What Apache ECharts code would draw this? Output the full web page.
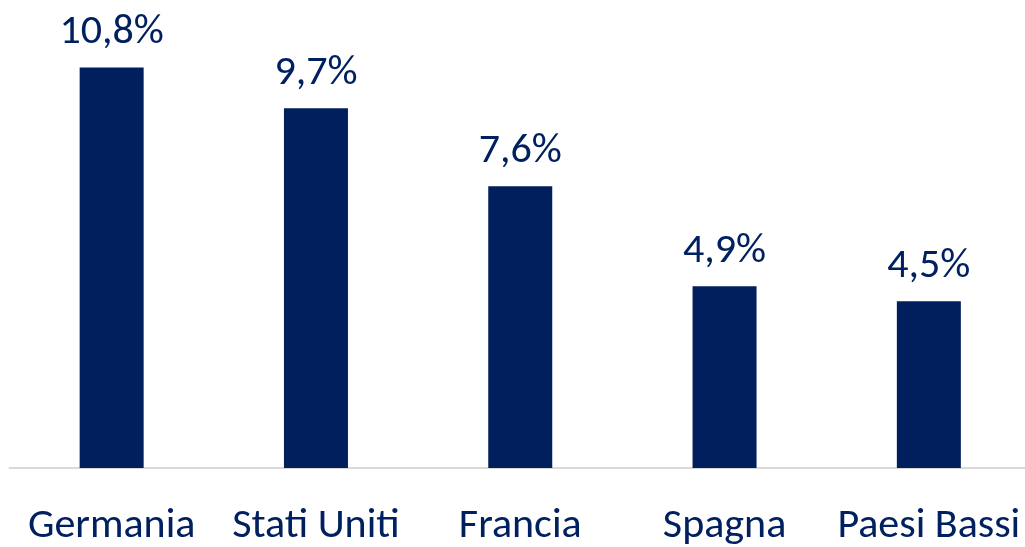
<!DOCTYPE html>
<html>
<head>
<meta charset="utf-8">
<script src="https://cdn.jsdelivr.net/npm/echarts@6/dist/echarts.min.js"></script>
<style>
  html, body { margin: 0; padding: 0; background: #fff; overflow: hidden; }
  #chart { width: 1031px; height: 547px; }
</style>
</head>
<body>
<div id="chart"></div>
<script>
// dati
const categories = ['Germania', 'Stati Uniti', 'Francia', 'Spagna', 'Paesi Bassi'];
const values = [10.8, 9.7, 7.6, 4.9, 4.5];

const navy = '#002060';
const fontFamily = 'Carlito, Lato, "Open Sans", sans-serif';

// il grafico originale prosegue oltre il bordo destro: il contenitore è un po' più largo della finestra
const chart = echarts.init(document.getElementById('chart'));

chart.setOption({
    animation: false,
    grid: {
        left: 9.5,
        top: 23,
        right: 0,
        height: 450
    },
    xAxis: {
        type: 'category',
        data: categories,
        axisLine: { lineStyle: { color: '#d9d9d9', width: 2 } },
        axisTick: { show: false },
        axisLabel: {
            color: navy,
            fontSize: 42,
            fontFamily: fontFamily,
            margin: 37,
            interval: 0
        }
    },
    yAxis: {
        type: 'value',
        min: 0,
        max: 12,
        show: false,
        splitLine: { show: false }
    },
    series: [{
        type: 'bar',
        data: values,
        barWidth: 64,
        itemStyle: { color: '#001f5c' },
        label: {
            show: true,
            position: 'top',
            distance: 14,
            color: navy,
            fontSize: 42,
            fontFamily: fontFamily,
            formatter: function (p) {
                return p.value.toFixed(1).replace('.', ',') + '%';
            }
        }
    }]
});
</script>
</body>
</html>
